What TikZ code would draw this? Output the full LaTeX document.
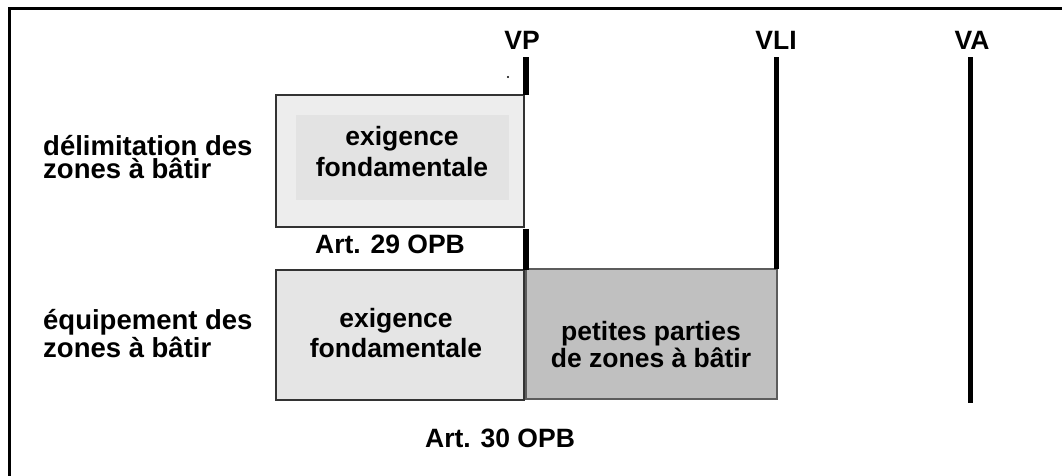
\documentclass[tikz,border=0pt]{standalone}
\usepackage{fontspec}
\setmainfont{Liberation Sans}
\definecolor{boxlight}{HTML}{EDEDED}
\definecolor{boxinner}{HTML}{E3E3E3}
\definecolor{boxmid}{HTML}{E5E5E5}
\definecolor{boxdark}{HTML}{C0C0C0}
\definecolor{edge}{HTML}{333333}
\begin{document}
\begin{tikzpicture}[x=1pt,y=-1pt,
  txt/.style={inner sep=0pt, align=center, font=\bfseries\fontsize{26.5}{30}\selectfont},
  lbl/.style={inner sep=0pt, align=left, font=\bfseries\fontsize{27.5}{23}\selectfont},
  zone/.style={draw=edge, line width=1.5pt, inner sep=0pt},
  vline/.style={line width=5.5pt, black}]
\useasboundingbox (0,0) rectangle (1062,475);
\clip (0,0) rectangle (1062,475);
% frame
\draw[line width=3pt, black] (9.5,480) -- (9.5,8.5) -- (1070,8.5);
% top box
\node[zone, fill=boxlight, minimum width=248pt, minimum height=132pt] (b1) at (400,161) {};
\node[fill=boxinner, inner sep=0pt, minimum width=213pt, minimum height=85pt] (b1i) at (402.5,157.5) {};
\node[txt, anchor=base, font=\bfseries\fontsize{26.5}{31}\selectfont] (t1) at (402,176) {exigence\\fondamentale};
% lower boxes
\node[zone, fill=boxmid, minimum width=248pt, minimum height=130pt] (b2) at (400,335) {};
\node[txt, anchor=base] (t2) at (396,357) {exigence\\fondamentale};
\node[zone, draw=edge!80, fill=boxdark, minimum width=251pt, minimum height=130pt] (b3) at (651.5,334) {};
\node[txt, anchor=base, font=\bfseries\fontsize{26.5}{27}\selectfont] (t3) at (651,367) {petites parties\\de zones à bâtir};
% left labels
\node[lbl, anchor=base west] (l1) at (43,178) {délimitation des\\zones à bâtir};
\node[lbl, anchor=base west, font=\bfseries\fontsize{27.5}{22}\selectfont] (l2) at (43,357) {équipement des\\zones à bâtir};
% article labels
\node[txt, anchor=base] (a29) at (390,253) {Art. 29 OPB};
\node[txt, anchor=base west] (a30) at (425,447) {Art. 30 OPB};
% limit labels
\node[txt, anchor=base] (vp) at (522,49) {VP};
\node[txt, anchor=base] (vli) at (776,49) {VLI};
\node[txt, anchor=base] (va) at (972,49) {VA};
% limit lines
\coordinate (vp1) at (526,57);
\coordinate (vp2) at (526,95);
\coordinate (vp3) at (526,229);
\coordinate (vp4) at (526,270);
\coordinate (vli1) at (776,57);
\coordinate (vli2) at (776,269);
\coordinate (va1) at (970,57);
\coordinate (va2) at (970,403);
\draw[vline] (vp1) -- (vp2);
\draw[vline] (vp3) -- (vp4);
\draw[vline, line width=5pt] (vli1) -- (vli2);
\draw[vline, line width=5pt] (va1) -- (va2);
% small dot
\fill (508,77) circle (1.1pt);
\end{tikzpicture}
\end{document}
